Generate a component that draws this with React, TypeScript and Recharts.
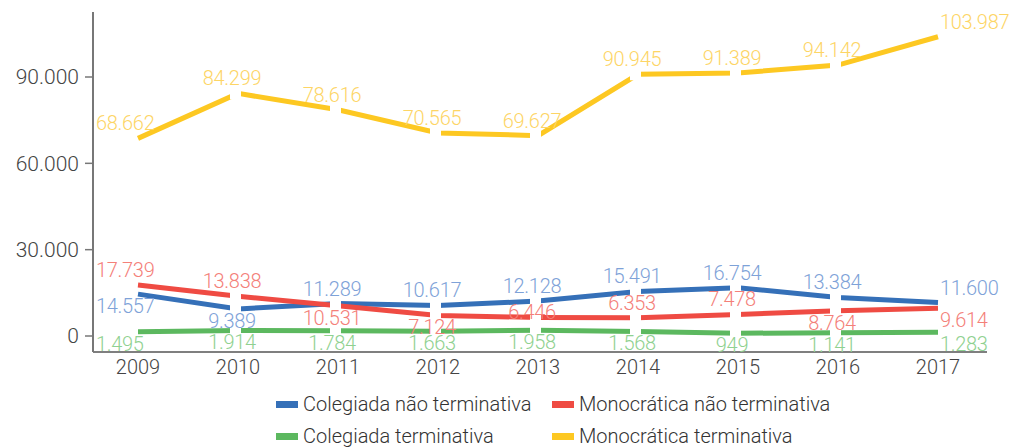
import { LineChart, Line, XAxis, YAxis, LabelList, Legend } from 'recharts';

const YEARS = ['2009', '2010', '2011', '2012', '2013', '2014', '2015', '2016', '2017'];
const COLEGIADA_NAO_TERM = [14557, 9389, 11289, 10617, 12128, 15491, 16754, 13384, 11600];
const MONOCRATICA_NAO_TERM = [17739, 13838, 10531, 7124, 6446, 6353, 7478, 8764, 9614];
const COLEGIADA_TERM = [1495, 1914, 1784, 1663, 1958, 1568, 949, 1141, 1283];
const MONOCRATICA_TERM = [68662, 84299, 78616, 70565, 69627, 90945, 91389, 94142, 103987];
const Y_TICKS = [0, 30000, 60000, 90000];

// which side of the point each value label sits on (u = above, d = below, m = on the line)
const SIDES_CNT = 'dduuuuuuu';
const SIDES_MNT = 'uuddmuudd';
const SIDES_CT = 'ddddddddd';
const SIDES_MT = 'uuuuuuuuu';

const FONT = 'Roboto, "Noto Sans", sans-serif';

const SERIES = [
  { key: 'cnt', name: 'Colegiada não terminativa', color: '#3570b8', label: '#7ea2d8', sides: SIDES_CNT },
  { key: 'mnt', name: 'Monocrática não terminativa', color: '#ef4b43', label: '#f48079', sides: SIDES_MNT },
  { key: 'ct', name: 'Colegiada terminativa', color: '#5cb85f', label: '#8fd190', sides: SIDES_CT },
  { key: 'mt', name: 'Monocrática terminativa', color: '#fdc822', label: '#fdd565', sides: SIDES_MT },
];

const data = YEARS.map((year, i) => ({
  year,
  cnt: COLEGIADA_NAO_TERM[i],
  mnt: MONOCRATICA_NAO_TERM[i],
  ct: COLEGIADA_TERM[i],
  mt: MONOCRATICA_TERM[i],
}));

const fmt = (v: number) => String(v).replace(/\B(?=(\d{3})+(?!\d))/g, '.');

const last = YEARS.length - 1;

const makeLabel = (color: string, sides: string) => (props: any) => {
  const { x, y, value, index } = props;
  const side = sides[index];
  const dy = side === 'u' ? -15 : side === 'm' ? -5 : 12;
  let tx = x - 6;
  let anchor: 'start' | 'middle' = 'middle';
  if (index === 0) {
    tx = x - 42;
    anchor = 'start';
  } else if (index === last) {
    tx = x + 2;
    anchor = 'start';
  }
  return (
    <text
      key={`l-${index}`}
      x={tx}
      y={y + dy}
      fill={color}
      textAnchor={anchor}
      dominantBaseline="central"
      fontSize={20}
      fontWeight={300}
      letterSpacing={-0.3}
      fontFamily={FONT}
    >
      {fmt(value)}
    </text>
  );
};

// white cut in the line at every inner point
const gapDot = (props: any) => {
  const { cx, cy, index } = props;
  if (index === 0 || index === last) return <g key={`d-${index}`} />;
  return <rect key={`d-${index}`} x={cx - 8} y={cy - 6} width={11} height={12} fill="#fff" />;
};

const renderLegend = () => (
  <div style={{ position: 'relative', width: 1010, height: 66, fontFamily: FONT, fontWeight: 300, fontSize: 20, color: '#333' }}>
    {SERIES.map((s, i) => {
      const col = i % 2;
      const row = Math.floor(i / 2);
      const left = col === 0 ? 276 : 552;
      const top = row === 0 ? 22 : 54;
      return (
        <div key={s.key} style={{ position: 'absolute', left, top: top - 12, height: 24, display: 'flex', alignItems: 'center', whiteSpace: 'nowrap' }}>
          <span style={{ display: 'inline-block', width: 22, height: 7, background: s.color, marginRight: 5 }} />
          <span>{s.name}</span>
        </div>
      );
    })}
  </div>
);

export default function App() {
  return (
    <div style={{ position: 'absolute', left: 0, top: 0, width: 1010, height: 448, background: '#fff' }}>
      <LineChart width={1010} height={448} data={data} margin={{ top: 12, right: 23, left: 0, bottom: 0 }}>
        <XAxis
          dataKey="year"
          padding={{ left: 45, right: 49 }}
          tickLine={false}
          tickSize={6}
          tickMargin={2}
          height={30}
          axisLine={{ stroke: '#555', strokeWidth: 1.5 }}
          tick={{ fill: '#444', fontSize: 20, fontWeight: 300, fontFamily: FONT }}
        />
        <YAxis
          width={93}
          domain={[-5560, 112586]}
          allowDataOverflow
          ticks={Y_TICKS}
          tickFormatter={fmt}
          tickSize={8}
          tickMargin={6}
          axisLine={{ stroke: '#777', strokeWidth: 2 }}
          tickLine={{ stroke: '#777', strokeWidth: 1.5 }}
          tick={{ fill: '#444', fontSize: 21, fontWeight: 300, fontFamily: FONT }}
        />
        <Legend verticalAlign="bottom" height={66} content={renderLegend} wrapperStyle={{ left: 0, top: 382, width: 1010, height: 66 }} />
        {SERIES.map((s) => (
          <Line
            key={s.key}
            type="linear"
            dataKey={s.key}
            name={s.name}
            stroke={s.color}
            strokeWidth={5}
            dot={gapDot}
            activeDot={false}
            isAnimationActive={false}
          >
            <LabelList dataKey={s.key} content={makeLabel(s.label, s.sides)} />
          </Line>
        ))}
      </LineChart>
    </div>
  );
}
